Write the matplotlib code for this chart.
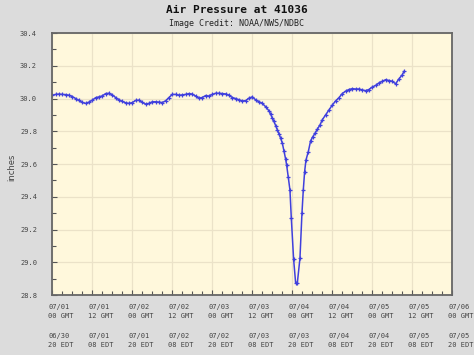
# Air pressure plot for buoy 41036 (NDBC style)

import numpy as np
import matplotlib as mpl
mpl.use('Agg')
import matplotlib.pyplot as plt
import matplotlib.ticker as ticker
import matplotlib.transforms as transforms

# hours since 07/01 00 GMT
hours = [0, 1, 2, 3, 4, 5, 6, 7, 8, 9, 10, 11, 12, 13, 14, 15, 16, 17, 18, 19,
         20, 21, 22, 23, 24, 25, 26, 27, 28, 29, 30, 31, 32, 33, 34, 35, 36, 37,
         38, 39, 40, 41, 42, 43, 44, 45, 46, 47, 48, 49, 50, 51, 52, 53, 54, 55,
         56, 57, 58, 59, 60, 61, 62, 63, 64, 65, 65.5, 66, 66.5, 67, 67.5, 68,
         68.5, 69, 69.5, 70, 70.3, 70.8, 71.3, 71.7, 72.4, 73.0, 73.5, 74.3,
         74.9, 75.3, 75.7, 76.1, 76.8, 77.5, 78.2, 78.8, 79.5, 80.3, 81, 82, 83,
         84, 85, 86, 87, 88, 89, 90, 91, 92, 93, 94, 95, 96, 97, 98, 99, 100,
         101, 102, 103, 104, 105, 105.5]
pressure = [30.020, 30.025, 30.027, 30.025, 30.024, 30.020, 30.012, 30.000,
            29.988, 29.976, 29.970, 29.978, 29.990, 30.005, 30.010, 30.016,
            30.030, 30.032, 30.022, 30.006, 29.992, 29.982, 29.974, 29.970,
            29.975, 29.988, 29.990, 29.976, 29.966, 29.970, 29.980, 29.980,
            29.978, 29.975, 29.986, 30.006, 30.025, 30.025, 30.020, 30.022,
            30.025, 30.030, 30.027, 30.015, 30.002, 30.006, 30.018, 30.015,
            30.025, 30.032, 30.032, 30.030, 30.028, 30.020, 30.006, 30.000,
            29.992, 29.985, 29.987, 30.002, 30.010, 29.992, 29.980, 29.970,
            29.950, 29.925, 29.905, 29.880, 29.860, 29.835, 29.810, 29.785,
            29.758, 29.728, 29.680, 29.630, 29.594, 29.519, 29.441, 29.272,
            29.018, 28.875, 28.871, 29.024, 29.299, 29.441, 29.553, 29.624,
            29.675, 29.742, 29.768, 29.787, 29.812, 29.838, 29.870, 29.900,
            29.930, 29.960, 29.985, 30.005, 30.030, 30.045, 30.055, 30.060,
            30.058, 30.058, 30.052, 30.048, 30.055, 30.070, 30.080, 30.095,
            30.105, 30.115, 30.110, 30.105, 30.090, 30.120, 30.145, 30.165]

tick_hours = list(range(0, 121, 12))
gmt_labels = ["07/01\n00 GMT", "07/01\n12 GMT", "07/02\n00 GMT", "07/02\n12 GMT",
              "07/03\n00 GMT", "07/03\n12 GMT", "07/04\n00 GMT", "07/04\n12 GMT",
              "07/05\n00 GMT", "07/05\n12 GMT", "07/06\n00 GMT"]
edt_labels = ["06/30\n20 EDT", "07/01\n08 EDT", "07/01\n20 EDT", "07/02\n08 EDT",
              "07/02\n20 EDT", "07/03\n08 EDT", "07/03\n20 EDT", "07/04\n08 EDT",
              "07/04\n20 EDT", "07/05\n08 EDT", "07/05\n20 EDT"]

mono = 'DejaVu Sans Mono'
txtcol = '#444444'

fig = plt.figure(figsize=(4.74, 3.55), dpi=100, facecolor='#dcdcdc')
ax = fig.add_axes([0.1103, 0.169, 0.8439, 0.738])
ax.set_facecolor('#fff8dc')

ax.plot(hours, pressure, '-', color='#4040dd', lw=1.1, marker='+',
        ms=3.5, mew=0.9)

ax.set_xlim(0, 120)
ax.set_ylim(28.8, 30.4)
ax.set_xticks(tick_hours)
ax.set_xticklabels([])
ax.xaxis.set_minor_locator(ticker.MultipleLocator(3))

# two rows of date labels under the axis, left aligned just before each tick
trans = transforms.blended_transform_factory(ax.transData, ax.transAxes)
for h, g, e in zip(tick_hours, gmt_labels, edt_labels):
    t1 = transforms.offset_copy(trans, fig=fig, x=-4, y=-9, units='dots')
    ax.text(h, 0, g, transform=t1, ha='left', va='top', fontfamily=mono,
            fontsize=5.0, color=txtcol, linespacing=1.5, clip_on=False)
    t2 = transforms.offset_copy(trans, fig=fig, x=-4, y=-38, units='dots')
    ax.text(h, 0, e, transform=t2, ha='left', va='top', fontfamily=mono,
            fontsize=5.0, color=txtcol, linespacing=1.5, clip_on=False)

ax.yaxis.set_major_locator(ticker.MultipleLocator(0.2))
ax.yaxis.set_minor_locator(ticker.MultipleLocator(0.1))
ax.yaxis.set_major_formatter(ticker.FormatStrFormatter('%.1f'))
for lbl in ax.get_yticklabels():
    lbl.set_fontfamily(mono)
    lbl.set_fontsize(5.0)
    lbl.set_color(txtcol)

ax.tick_params(which='both', direction='in', color='#555555', width=0.8,
               top=False, right=False)
ax.tick_params(which='major', length=3.5)
ax.tick_params(which='minor', length=3)
ax.tick_params(axis='y', pad=11)

ax.grid(True, which='major', color='#ebe2c8', lw=0.9)
ax.set_axisbelow(True)
for s in ax.spines.values():
    s.set_color('#666666')
    s.set_linewidth(1.3)

fig.text(12/474, 1 - 167/355, "inches", rotation=90, ha='center', va='center',
         fontsize=6, color=txtcol)
fig.text(0.499, 0.973, "Air Pressure at 41036", ha='center', va='center',
         fontfamily=mono, fontweight='bold', fontsize=8, color='#111111')
fig.text(0.499, 0.933, "Image Credit: NOAA/NWS/NDBC", ha='center', va='center',
         fontfamily=mono, fontsize=6, color='#222222')

fig.savefig('out.png', dpi=100, facecolor=fig.get_facecolor())
